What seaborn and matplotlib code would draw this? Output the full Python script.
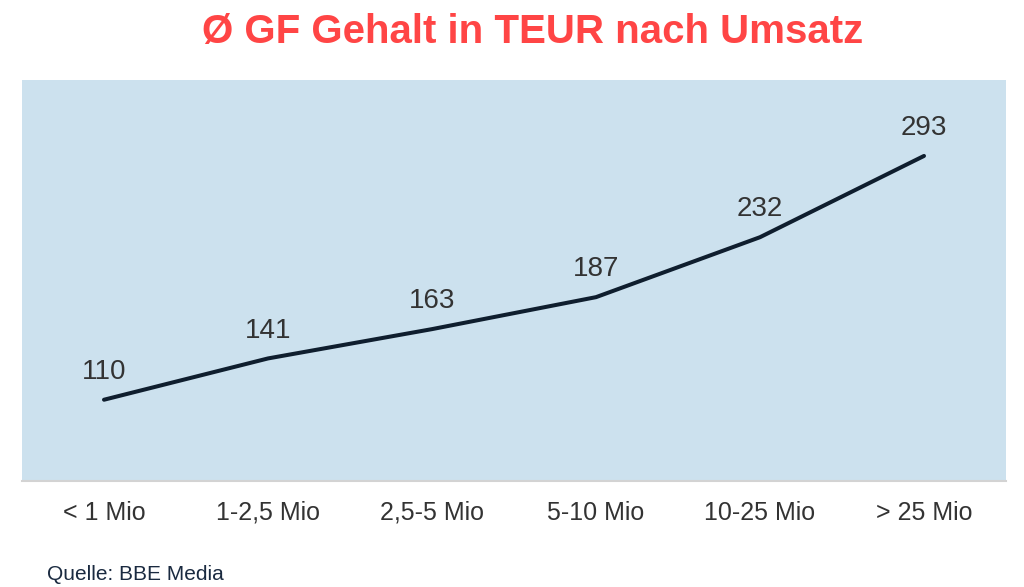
import matplotlib
matplotlib.use("Agg")
import matplotlib.pyplot as plt
import seaborn as sns
import pandas as pd

categories = ["< 1 Mio", "1-2,5 Mio", "2,5-5 Mio", "5-10 Mio", "10-25 Mio", "> 25 Mio"]
values = [110, 141, 163, 187, 232, 293]

sns.set_style("white")
plt.rcParams['font.family'] = ['Liberation Sans', 'DejaVu Sans']

df = pd.DataFrame({"cat": categories, "val": values, "x": range(len(categories))})

fig = plt.figure(figsize=(10.24, 5.87), dpi=100)
ax = fig.add_axes([22/1024, 1-481/587, 984/1024, 401/587])
ax.set_facecolor("#CCE1EE")
sns.lineplot(data=df, x="x", y="val", ax=ax, color="#0F1E2E", linewidth=2.9, sort=False)

for xi, v in zip(df["x"], df["val"]):
    ax.annotate(str(v), (xi, v), xytext=(0, 20), textcoords="offset points",
                ha="center", va="center", fontsize=20, color="#333333")

ax.set_xlim(-0.5, 5.5)
ax.set_ylim(49, 350)
ax.set_xticks(range(len(categories)))
ax.set_xticklabels(categories, fontsize=18, color="#333333", va="baseline")
ax.set_yticks([])
ax.set_xlabel("")
ax.set_ylabel("")
ax.tick_params(axis="x", length=0, pad=28)
for s in ["top", "left", "right"]:
    ax.spines[s].set_visible(False)
ax.spines["bottom"].set_color("#D3D3D3")
ax.spines["bottom"].set_linewidth(1.5)

fig.text(533/1024, 1-32/587, "Ø GF Gehalt in TEUR nach Umsatz", ha="center", va="center",
         fontsize=29, fontweight="bold", color="#FF4545")
fig.text(47/1024, 1-574/587, "Quelle: BBE Media", ha="left", va="center",
         fontsize=15, color="#1A2A40")

fig.savefig("out.png", dpi=100)
